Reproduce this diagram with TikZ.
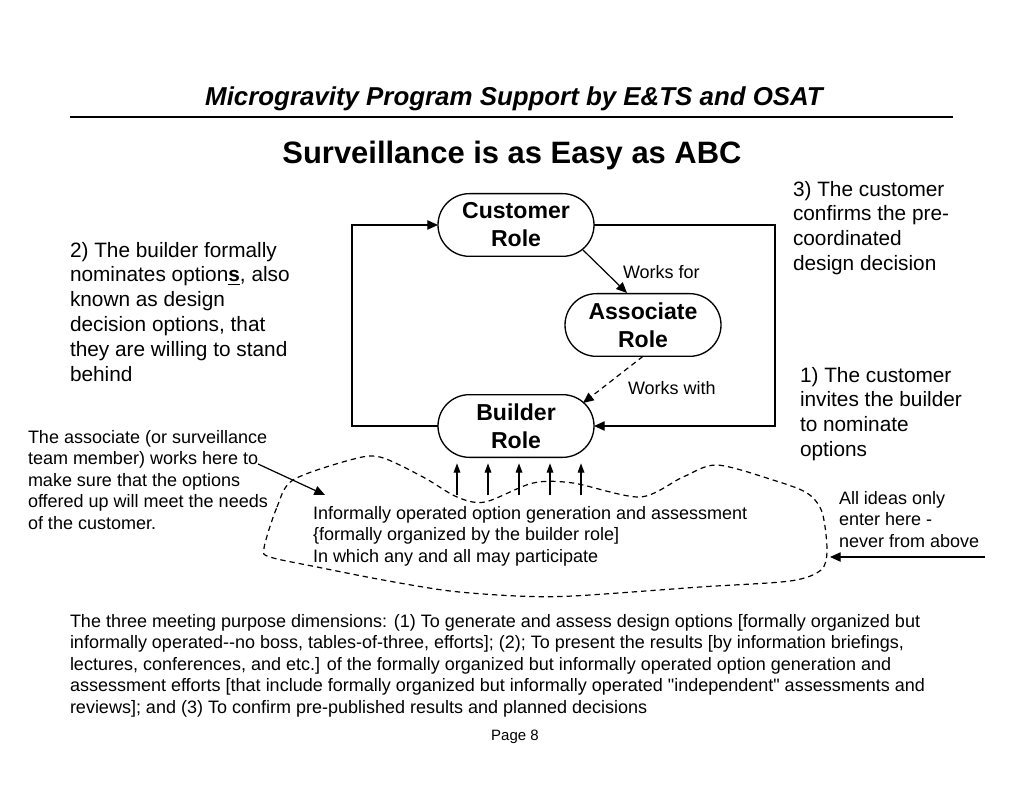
\documentclass[tikz,border=0pt]{standalone}
\usepackage{fontspec}
\setmainfont{Liberation Sans}[Ligatures=TeXOff]
\usetikzlibrary{arrows.meta}
\begin{document}
\begin{tikzpicture}[x=0.75pt,y=-0.75pt,
  every node/.style={inner sep=0pt, outer sep=0pt},
  role/.style={draw, line width=1pt, rounded corners=23.5pt, minimum width=117pt, minimum height=47pt, align=center, font=\fontsize{17.3}{21}\selectfont\bfseries},
  big/.style={anchor=north west, align=left, font=\fontsize{15.6}{18.6}\selectfont},
  small/.style={anchor=north west, align=left, font=\fontsize{13.5}{16.2}\selectfont},
  lbl/.style={anchor=west, font=\fontsize{13.5}{16.2}\selectfont},
  conn/.style={line width=0.9pt, -{Triangle[length=8pt,width=7pt]}},
  upar/.style={line width=0.9pt, -{Triangle[length=7pt,width=5pt]}},
  dsh/.style={dash pattern=on 4pt off 3pt}
]
\useasboundingbox (0,0) rectangle (1024,791);
\fill[white] (0,0) rectangle (1024,791);

% titles
\node[anchor=base, font=\fontsize{19.4}{23}\selectfont\bfseries\itshape] (title) at (514,106) {Microgravity Program Support by E\&TS and OSAT};
\draw[line width=2.2pt] (70,117) -- (953,117);
\node[anchor=base, font=\fontsize{23.2}{28}\selectfont\bfseries] (sub) at (512,164) {Surveillance is as Easy as ABC};

% role nodes
\node[role] (cust) at (516,225) {Customer\\Role};
\node[role] (assoc) at (643,325) {Associate\\Role};
\node[role] (build) at (516,426) {Builder\\Role};

% labels
\node[lbl] (wf) at (623,272) {Works for};
\node[lbl] (ww) at (628,388) {Works with};

% text blocks
\node[big] (t3) at (793,181) {3) The customer\\confirms the pre-\\coordinated\\design decision};
\node[big] (t2) at (70,242) {2) The builder formally\\nominates option\textbf{\underline{s}}, also\\known as design\\decision options, that\\they are willing to stand\\behind};
\node[big] (t1) at (800,367) {1) The customer\\invites the builder\\to nominate\\options};
\node[small] (tassoc) at (28,430) {The associate (or surveillance\\team member) works here to\\make sure that the options\\offered up will meet the needs\\of the customer.};
\node[small] (tcloud) at (313,506) {Informally operated option generation and assessment\\\{formally organized by the builder role]\\In which any and all may participate};
\node[small] (tideas) at (839,491) {All ideas only\\enter here -\\never from above};
\node[small] (tbottom) at (70,614) {The three meeting purpose dimensions: (1) To generate and assess design options [formally organized but\\informally operated--no boss, tables-of-three, efforts]; (2); To present the results [by information briefings,\\lectures, conferences, and etc.] of the formally organized but informally operated option generation and\\assessment efforts [that include formally organized but informally operated "independent" assessments and\\reviews]; and (3) To confirm pre-published results and planned decisions};
\node[anchor=base, font=\fontsize{11.25}{13}\selectfont] (page) at (515,740) {Page 8};

% connectors
\draw[conn] (build.west) -- ++(-86,0) |- (cust.west);
\draw[conn] (cust.east) -- ++(181,0) |- (build.east);
\draw[conn] ([shift={(67,25)}]cust.center) -- ([shift={(-16,-32)}]assoc.center);
\draw[conn, dsh] (assoc.south) -- ([shift={(67,-23)}]build.center);
\foreach \dx in {-59,-28,3,34,65}
  \draw[upar] ([shift={(\dx,38)}]build.south) -- ([shift={(\dx,6)}]build.south);
\coordinate (ha) at (258,464);
\coordinate (hb) at (325,495);
\draw[conn] (ha) -- (hb);
\coordinate (ia) at (985,557);
\coordinate (ib) at (830,557);
\draw[conn] (ia) -- (ib);

% cloud
\draw[line width=0.9pt, dsh] plot[smooth cycle] coordinates {
  (264,548) (277,507) (293,480) (350,460) (380,457) (423,477) (457,497) (485,502)
  (533,483) (573,483) (640,497) (683,477) (717,465) (773,480) (807,493) (822,512)
  (827,550) (821,570) (790,581) (700,587) (573,596) (517,596) (450,591) (383,580)
  (317,567) (270,557)};
\end{tikzpicture}
\end{document}
